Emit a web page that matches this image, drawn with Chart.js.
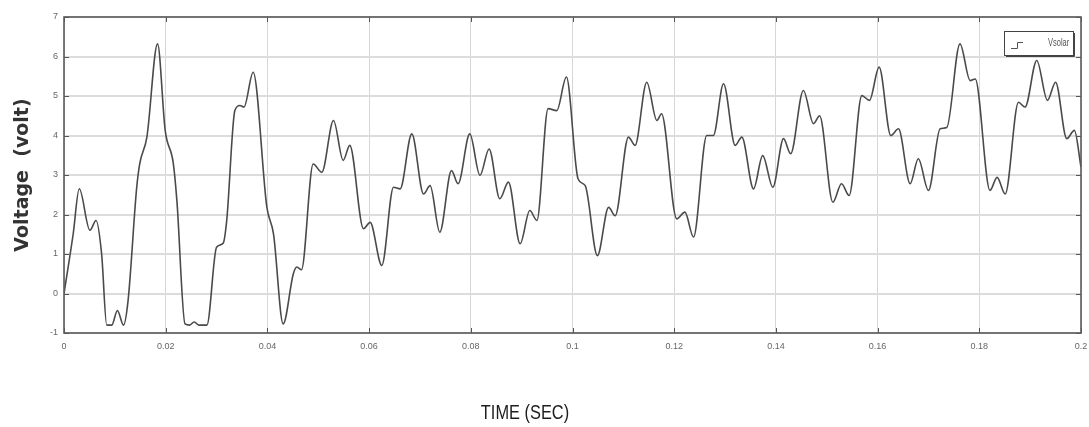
<!DOCTYPE html>
<html>
<head>
<meta charset="utf-8">
<script src="https://cdn.jsdelivr.net/npm/chart.js@4.4.1/dist/chart.umd.min.js"></script>
<style>
  html, body { margin: 0; padding: 0; background: #fff; }
  #wrap { width: 1089px; height: 427px; }
</style>
</head>
<body>
<div id="wrap"><canvas id="chart" width="1089" height="427"></canvas></div>
<script>
// values
const timeSec = [
  0.0000, 0.0018, 0.0030, 0.0051, 0.0063, 0.0074, 0.0084, 0.0094, 0.0105, 0.0117,
  0.0126, 0.0143, 0.0149, 0.0163, 0.0184, 0.0199, 0.0215, 0.0222, 0.0238, 0.0247,
  0.0256, 0.0265, 0.0281, 0.0300, 0.0313, 0.0320, 0.0336, 0.0346, 0.0354, 0.0372,
  0.0399, 0.0412, 0.0431, 0.0451, 0.0458, 0.0467, 0.0490, 0.0507, 0.0530, 0.0549,
  0.0562, 0.0589, 0.0602, 0.0625, 0.0648, 0.0661, 0.0684, 0.0707, 0.0720, 0.0739,
  0.0762, 0.0775, 0.0798, 0.0818, 0.0836, 0.0857, 0.0874, 0.0897, 0.0916, 0.0930,
  0.0952, 0.0969, 0.0988, 0.1011, 0.1025, 0.1049, 0.1071, 0.1084, 0.1110, 0.1123,
  0.1146, 0.1166, 0.1175, 0.1205, 0.1221, 0.1238, 0.1264, 0.1277, 0.1297, 0.1320,
  0.1333, 0.1356, 0.1374, 0.1394, 0.1415, 0.1429, 0.1454, 0.1474, 0.1486, 0.1512,
  0.1529, 0.1544, 0.1569, 0.1584, 0.1603, 0.1626, 0.1641, 0.1664, 0.1680, 0.1700,
  0.1723, 0.1736, 0.1762, 0.1782, 0.1792, 0.1821, 0.1835, 0.1851, 0.1877, 0.1890,
  0.1913, 0.1934, 0.1950, 0.1972, 0.1987, 0.2000
];
const voltage = [
  0.00, 1.50, 2.65, 1.60, 1.85, 1.00, -0.80, -0.80, -0.43, -0.80,
  -0.18, 2.69, 3.29, 3.96, 6.32, 4.13, 3.29, 2.35, -0.77, -0.80,
  -0.72, -0.80, -0.80, 1.17, 1.27, 1.85, 4.63, 4.76, 4.72, 5.60,
  2.18, 1.51, -0.77, 0.50, 0.67, 0.60, 3.28, 3.07, 4.38, 3.37,
  3.75, 1.64, 1.80, 0.71, 2.69, 2.65, 4.04, 2.52, 2.73, 1.55,
  3.11, 2.78, 4.04, 2.99, 3.66, 2.40, 2.82, 1.26, 2.10, 1.85,
  4.68, 4.63, 5.48, 2.90, 2.73, 0.96, 2.18, 1.97, 3.96, 3.75,
  5.35, 4.38, 4.55, 1.89, 2.06, 1.43, 4.00, 4.00, 5.31, 3.75,
  3.96, 2.65, 3.49, 2.69, 3.92, 3.54, 5.14, 4.30, 4.50, 2.31,
  2.78, 2.48, 5.01, 4.89, 5.73, 4.00, 4.17, 2.78, 3.41, 2.61,
  4.17, 4.20, 6.32, 5.39, 5.43, 2.61, 2.94, 2.52, 4.84, 4.72,
  5.90, 4.89, 5.35, 3.92, 4.13, 3.20
];
const xTickValues = [0, 0.02, 0.04, 0.06, 0.08, 0.1, 0.12, 0.14, 0.16, 0.18, 0.2];
const yTickValues = [-1, 0, 1, 2, 3, 4, 5, 6, 7];
const seriesLabel = "Vsolar";
const xTitle = "TIME (SEC)";
const yTitle = "Voltage  (volt)";

const tickFont = { family: "'Liberation Sans', sans-serif", size: 9 };

// squeezed text, the source picture has narrow lettering
function narrowText(ctx, text, x, y, squeeze) {
  ctx.save();
  ctx.translate(x, y);
  ctx.scale(squeeze, 1);
  ctx.fillText(text, 0, 0);
  ctx.restore();
}

// box round the plot, inner tick marks, legend and x title (matlab scope look)
const scopeFrame = {
  id: "scopeFrame",
  afterDraw(chart) {
    const { ctx, chartArea: a, scales } = chart;
    ctx.save();
    ctx.strokeStyle = "#555";
    ctx.lineWidth = 1;
    ctx.beginPath();
    scales.x.ticks.forEach(t => {
      const px = Math.round(scales.x.getPixelForValue(t.value)) + 0.5;
      ctx.moveTo(px, a.top); ctx.lineTo(px, a.top + 5);
      ctx.moveTo(px, a.bottom); ctx.lineTo(px, a.bottom - 5);
    });
    scales.y.ticks.forEach(t => {
      const py = Math.round(scales.y.getPixelForValue(t.value)) + 0.5;
      ctx.moveTo(a.left, py); ctx.lineTo(a.left + 5, py);
      ctx.moveTo(a.right, py); ctx.lineTo(a.right - 5, py);
    });
    ctx.stroke();
    ctx.lineWidth = 1.6;
    ctx.strokeStyle = "#5a5a5a";
    ctx.strokeRect(a.left, a.top, a.right - a.left, a.bottom - a.top);

    // legend
    const x0 = a.right - 77, x1 = a.right - 8, y0 = a.top + 14, y1 = a.top + 38;
    ctx.fillStyle = "#fff";
    ctx.fillRect(x0, y0, x1 - x0, y1 - y0);
    ctx.lineWidth = 1;
    ctx.strokeStyle = "#444";
    ctx.strokeRect(x0 + 0.5, y0 + 0.5, x1 - x0, y1 - y0);
    ctx.beginPath();
    ctx.moveTo(x1 + 1.5, y0 + 2); ctx.lineTo(x1 + 1.5, y1 + 1.5); ctx.lineTo(x0 + 2, y1 + 1.5);
    ctx.stroke();
    ctx.beginPath();
    ctx.strokeStyle = "#555";
    ctx.moveTo(x0 + 7, y0 + 17.5); ctx.lineTo(x0 + 13.5, y0 + 17.5);
    ctx.lineTo(x0 + 13.5, y0 + 11.5); ctx.lineTo(x0 + 19, y0 + 11.5);
    ctx.stroke();
    ctx.fillStyle = "#555";
    ctx.font = "10px 'Liberation Sans', sans-serif";
    ctx.textAlign = "left";
    ctx.textBaseline = "middle";
    narrowText(ctx, chart.data.datasets[0].label, x0 + 44, y0 + 12, 0.75);

    // x axis title
    ctx.fillStyle = "#1e1e1e";
    ctx.font = "21px 'Liberation Sans', sans-serif";
    ctx.textAlign = "center";
    narrowText(ctx, xTitle, 525, 413, 0.78);
    ctx.restore();
  }
};

new Chart(document.getElementById("chart"), {
  type: "line",
  data: {
    datasets: [{
      label: seriesLabel,
      data: timeSec.map((t, i) => ({ x: t, y: voltage[i] })),
      borderColor: "#4a4a4a",
      borderWidth: 1.6,
      pointRadius: 0,
      fill: false,
      cubicInterpolationMode: "monotone"
    }]
  },
  options: {
    responsive: false,
    animation: false,
    layout: { padding: { top: 17, right: 8, left: 0, bottom: 0 } },
    plugins: { legend: { display: false }, tooltip: { enabled: false } },
    scales: {
      x: {
        type: "linear",
        min: 0,
        max: 0.2,
        afterFit: (scale) => { scale.height = 94; scale.paddingRight = 0; scale.paddingLeft = 0; },
        afterBuildTicks: (scale) => { scale.ticks = xTickValues.map(v => ({ value: v })); },
        grid: { color: "#d6d6d6", lineWidth: 1, drawTicks: false },
        border: { display: false },
        ticks: {
          padding: 8,
          maxRotation: 0,
          color: "#666",
          font: tickFont,
          callback: (v) => String(Number(v.toFixed(2)))
        }
      },
      y: {
        min: -1,
        max: 7,
        afterFit: (scale) => { scale.width = 64; },
        afterBuildTicks: (scale) => { scale.ticks = yTickValues.map(v => ({ value: v })); },
        grid: { color: "#dcdcdc", lineWidth: 2, drawTicks: false },
        border: { display: false },
        ticks: { padding: 6, color: "#666", font: tickFont },
        title: {
          display: true,
          text: yTitle,
          color: "#333",
          padding: { top: 12, bottom: 0 },
          font: { family: "'DejaVu Sans', sans-serif", size: 19, weight: "bold" }
        }
      }
    }
  },
  plugins: [scopeFrame]
});
</script>
</body>
</html>
